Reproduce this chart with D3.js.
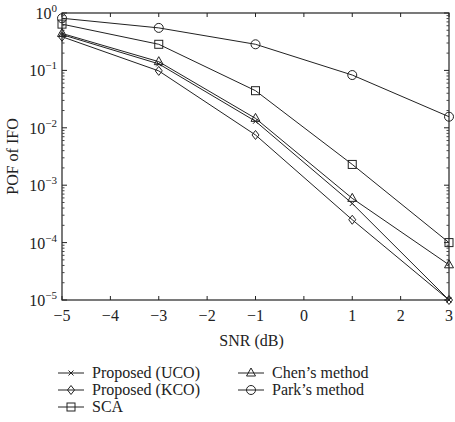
<!DOCTYPE html>
<html>
<head>
<meta charset="utf-8">
<script src="https://cdn.jsdelivr.net/npm/d3@7"></script>
<style>
  body { margin: 0; background: #fff; }
</style>
</head>
<body>
<div id="chart"></div>
<script>
// Data
const snr = [-5, -3, -1, 1, 3];
const proposedUCO = [0.42, 0.13, 0.013, 4.8e-4, 1e-5];
const proposedKCO = [0.386, 0.098, 0.0075, 2.5e-4, 1e-5];
const sca = [0.64, 0.285, 0.0443, 0.0023, 1e-4];
const chen = [0.44, 0.142, 0.0146, 5.9e-4, 4.1e-5];
const park = [0.81, 0.55, 0.285, 0.083, 0.0156];
const xTicks = [-5, -4, -3, -2, -1, 0, 1, 2, 3];
const yExps = [0, -1, -2, -3, -4, -5];

const series = [
    {name: 'Proposed (UCO)', values: proposedUCO, marker: 'x'},
    {name: 'Proposed (KCO)', values: proposedKCO, marker: 'diamond'},
    {name: 'SCA', values: sca, marker: 'square'},
    {name: 'Chen\u2019s method', values: chen, marker: 'triangle'},
    {name: 'Park\u2019s method', values: park, marker: 'circle'}
];

const W = 455, H = 422;
const margin = {top: 13, right: 6, bottom: 122, left: 62};
const width = W - margin.left - margin.right;
const height = H - margin.top - margin.bottom;
const ink = '#222';

const svg = d3.select('#chart').append('svg')
    .attr('width', W).attr('height', H)
    .attr('font-family', '"Liberation Serif", "Times New Roman", serif');
const g = svg.append('g')
    .attr('transform', `translate(${margin.left},${margin.top})`);

const x = d3.scaleLinear().domain([-5, 3]).range([0, width]);
const y = d3.scaleLog().domain([1e-5, 1]).range([height, 0]);

// minor log ticks
const minor = [];
for (let e = -5; e < 0; e++) {
    for (let k = 2; k <= 9; k++) minor.push(k * Math.pow(10, e));
}

function drawMarker(sel, type, cx, cy) {
    const s = 4.5;
    if (type === 'circle') {
        sel.append('circle').attr('cx', cx).attr('cy', cy).attr('r', s)
            .attr('fill', 'none').attr('stroke', ink);
    } else if (type === 'square') {
        sel.append('rect').attr('x', cx - s + 0.5).attr('y', cy - s + 0.5)
            .attr('width', 2 * s - 1).attr('height', 2 * s - 1)
            .attr('fill', 'none').attr('stroke', ink);
    } else if (type === 'triangle') {
        sel.append('path')
            .attr('d', `M${cx},${cy - s - 0.5}L${cx + s},${cy + s - 1.5}L${cx - s},${cy + s - 1.5}Z`)
            .attr('fill', 'none').attr('stroke', ink);
    } else if (type === 'diamond') {
        sel.append('path')
            .attr('d', `M${cx},${cy - s}L${cx + s - 1},${cy}L${cx},${cy + s}L${cx - s + 1},${cy}Z`)
            .attr('fill', 'none').attr('stroke', ink);
    } else if (type === 'x') {
        const t = 2.5;
        sel.append('path')
            .attr('d', `M${cx - t},${cy - t}L${cx + t},${cy + t}M${cx - t},${cy + t}L${cx + t},${cy - t}`)
            .attr('stroke', ink);
    }
}

// frame
g.append('rect').attr('width', width).attr('height', height)
    .attr('fill', 'none').attr('stroke', ink).attr('stroke-width', 1.2);

// x ticks, bottom and top, pointing inward
xTicks.forEach(t => {
    g.append('line').attr('x1', x(t)).attr('x2', x(t)).attr('y1', height).attr('y2', height - 4)
        .attr('stroke', ink);
    g.append('line').attr('x1', x(t)).attr('x2', x(t)).attr('y1', 0).attr('y2', 4)
        .attr('stroke', ink);
    g.append('text').attr('x', x(t)).attr('y', height + 21)
        .attr('text-anchor', 'middle').attr('font-size', 16).attr('fill', ink)
        .text(t < 0 ? '\u2212' + Math.abs(t) : t);
});

// y ticks, left and right
yExps.forEach(e => {
    const v = Math.pow(10, e);
    g.append('line').attr('x1', 0).attr('x2', 5).attr('y1', y(v)).attr('y2', y(v)).attr('stroke', ink);
    g.append('line').attr('x1', width).attr('x2', width - 5).attr('y1', y(v)).attr('y2', y(v)).attr('stroke', ink);
    const txt = g.append('text').attr('x', -5).attr('y', y(v) + 6)
        .attr('text-anchor', 'end').attr('font-size', 16).attr('fill', ink);
    txt.append('tspan').text('10');
    txt.append('tspan').attr('dy', -7).attr('font-size', 11)
        .text(e === 0 ? '0' : '\u2212' + Math.abs(e));
});
minor.forEach(v => {
    g.append('line').attr('x1', 0).attr('x2', 2.5).attr('y1', y(v)).attr('y2', y(v)).attr('stroke', '#444');
    g.append('line').attr('x1', width).attr('x2', width - 2.5).attr('y1', y(v)).attr('y2', y(v)).attr('stroke', '#444');
});

// lines and markers
const line = d3.line().x((d, i) => x(snr[i])).y(d => y(d));
series.forEach(s => {
    g.append('path').datum(s.values).attr('d', line)
        .attr('fill', 'none').attr('stroke', ink).attr('stroke-width', 1);
    const mg = g.append('g');
    s.values.forEach((v, i) => drawMarker(mg, s.marker, x(snr[i]), y(v)));
});

// axis labels
g.append('text').attr('x', width / 2 - 4).attr('y', height + 46)
    .attr('text-anchor', 'middle').attr('font-size', 16).attr('fill', ink)
    .text('SNR (dB)');
svg.append('text')
    .attr('transform', `translate(18,${margin.top + height / 2}) rotate(-90)`)
    .attr('text-anchor', 'middle').attr('font-size', 16).attr('fill', ink)
    .text('POF of IFO');

// legend
const legendPos = [
    {x: 58, y: 373}, {x: 58, y: 390}, {x: 58, y: 407},
    {x: 238, y: 373}, {x: 238, y: 390}
];
series.forEach((s, i) => {
    const p = legendPos[i];
    const lg = svg.append('g');
    lg.append('line').attr('x1', p.x).attr('x2', p.x + 26).attr('y1', p.y).attr('y2', p.y)
        .attr('stroke', ink);
    drawMarker(lg, s.marker, p.x + 13, p.y);
    lg.append('text').attr('x', p.x + 34).attr('y', p.y + 5)
        .attr('font-size', 16).attr('fill', ink).text(s.name);
});
</script>
</body>
</html>
